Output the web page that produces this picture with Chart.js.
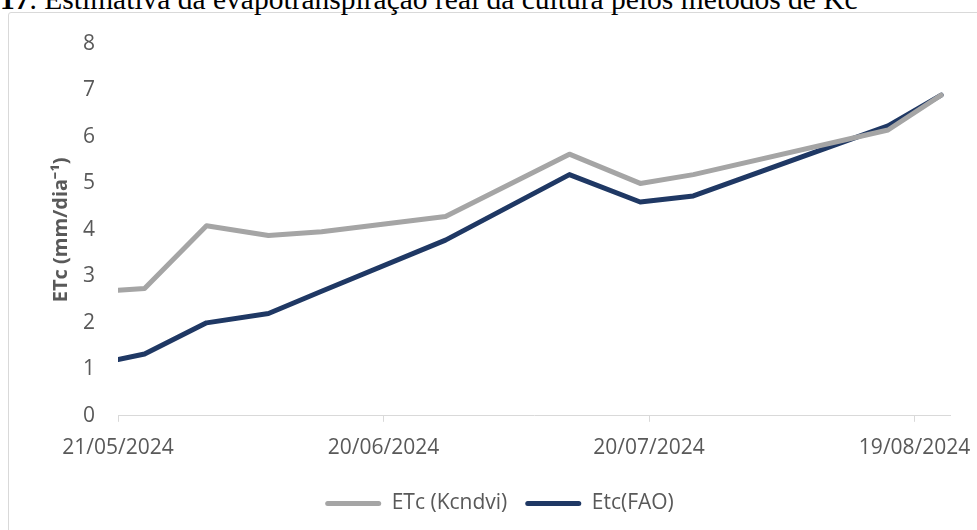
<!DOCTYPE html>
<html>
<head>
<meta charset="utf-8">
<script src="https://cdn.jsdelivr.net/npm/chart.js@4.4.1/dist/chart.umd.min.js"></script>
<style>
  html, body { margin: 0; padding: 0; background: #fff; overflow: hidden; }
  body { width: 977px; height: 530px; position: relative; }
  #frame { position: absolute; left: 8px; top: 12px; width: 1100px; height: 700px; border: 1px solid #d9d9d9; border-radius: 3px; }
  #caption { position: absolute; left: 0; top: -15px; font-family: "Liberation Serif", serif; font-size: 29.5px; line-height: 29.5px; color: #000; white-space: nowrap; }
  #wrap { position: absolute; left: 0; top: 0; width: 977px; height: 530px; }
</style>
</head>
<body>
<div id="frame"></div>
<div id="caption"><b>17</b>. Estimativa da evapotranspiração real da cultura pelos métodos de Kc</div>
<div id="wrap"><canvas id="etc-chart"></canvas></div>
<script>
// sampling dates and values
const dates = ['21/05/2024', '24/05/2024', '31/05/2024', '07/06/2024', '13/06/2024', '27/06/2024',
               '11/07/2024', '19/07/2024', '25/07/2024', '16/08/2024', '22/08/2024'];
const etcKcndvi = [2.70, 2.74, 4.09, 3.88, 3.96, 4.29, 5.63, 5.00, 5.19, 6.15, 6.90];
const etcFao = [1.21, 1.33, 2.00, 2.20, 2.68, 3.78, 5.19, 4.60, 4.73, 6.24, 6.90];
const tickDates = ['21/05/2024', '20/06/2024', '20/07/2024', '19/08/2024'];
const axisEnd = '23/08/2024';

const start = Date.UTC(2024, 4, 21);
function dayOf(s) {
    const p = s.split('/');
    return Math.round((Date.UTC(+p[2], +p[1] - 1, +p[0]) - start) / 864e5);
}

const tickLabel = {};
for (let t of tickDates) tickLabel[dayOf(t)] = t;

const font = { family: "'Open Sans', sans-serif", size: 21 };

const data = {
    datasets: [{
        label: 'ETc (Kcndvi)',
        data: dates.map((d, i) => ({ x: dayOf(d), y: etcKcndvi[i] })),
        borderColor: '#a5a5a5',
        backgroundColor: '#a5a5a5',
        borderWidth: 5,
        pointRadius: 0,
        borderJoinStyle: 'round',
        borderCapStyle: 'round',
        tension: 0
    }, {
        label: 'Etc(FAO)',
        data: dates.map((d, i) => ({ x: dayOf(d), y: etcFao[i] })),
        borderColor: '#1f3864',
        backgroundColor: '#1f3864',
        borderWidth: 5,
        pointRadius: 0,
        borderJoinStyle: 'round',
        borderCapStyle: 'round',
        tension: 0
    }]
};

const config = {
    type: 'line',
    data: data,
    options: {
        responsive: true,
        maintainAspectRatio: false,
        animation: false,
        layout: { padding: { left: 49, right: 27, top: 44, bottom: 6 } },
        plugins: {
            tooltip: { enabled: false },
            legend: {
                position: 'bottom',
                labels: {
                    font: font,
                    color: '#595959',
                    boxWidth: 56,
                    boxHeight: 5,
                    padding: 18,
                    useBorderRadius: true,
                    borderRadius: 2.5,
                    generateLabels: function(chart) {
                        const items = Chart.defaults.plugins.legend.labels.generateLabels(chart);
                        items.forEach(it => { it.lineWidth = 0; });
                        return items;
                    }
                }
            }
        },
        scales: {
            x: {
                type: 'linear',
                min: 0,
                max: dayOf(axisEnd),
                afterBuildTicks: axis => { axis.ticks = tickDates.map(t => ({ value: dayOf(t) })); },
                afterFit: axis => { axis.paddingLeft = 0; axis.paddingRight = 0; },
                ticks: {
                    font: font,
                    color: '#595959',
                    padding: 14,
                    maxRotation: 0,
                    autoSkip: false,
                    callback: v => tickLabel[v] || ''
                },
                grid: { drawOnChartArea: false, drawTicks: true, tickLength: 6, color: '#d9d9d9' },
                border: { color: '#d9d9d9', width: 1 }
            },
            y: {
                min: 0,
                max: 8,
                ticks: { stepSize: 1, font: font, color: '#595959', padding: 15 },
                grid: { display: false },
                border: { display: false },
                title: {
                    display: true,
                    text: 'ETc (mm/dia⁻¹)',
                    color: '#595959',
                    font: { family: "'Open Sans', sans-serif", size: 20, weight: 'bold' },
                    padding: { top: 0, bottom: 0 }
                },
                afterFit: axis => { axis.width = 69; }
            }
        }
    }
};

const myChart = new Chart(document.getElementById('etc-chart'), config);
</script>
</body>
</html>
